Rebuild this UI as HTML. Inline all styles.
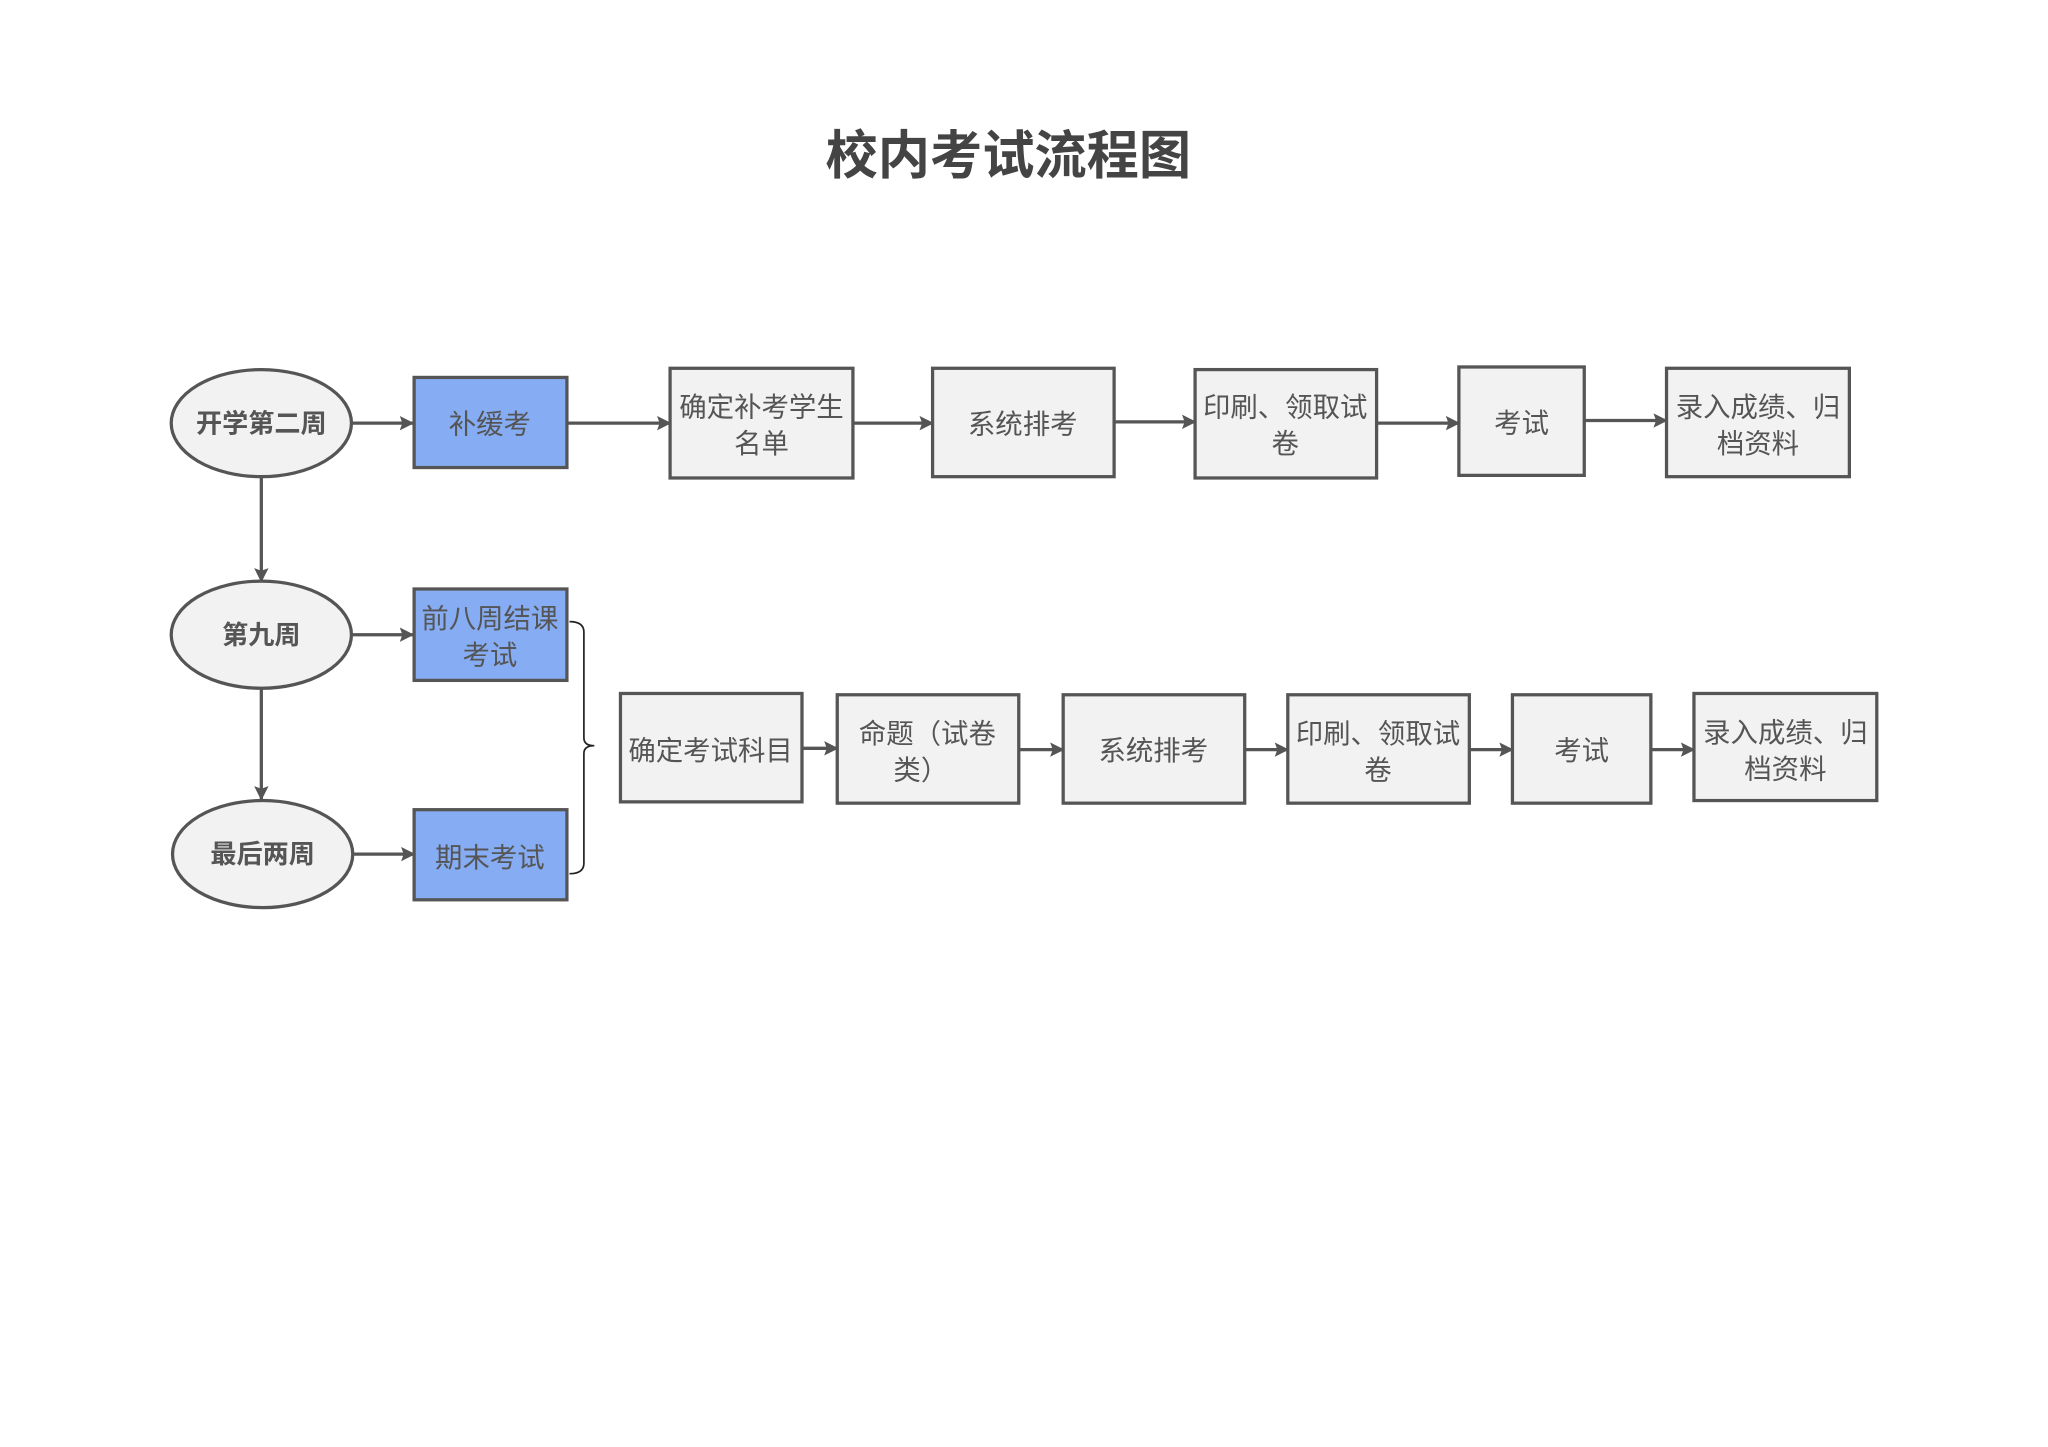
<!DOCTYPE html>
<html><head><meta charset="utf-8"><style>
html,body{margin:0;padding:0;background:#fff;}
svg{display:block;}
text{font-family:"Liberation Sans","Noto Sans CJK SC",sans-serif;fill:#555;}
</style></head><body>
<svg width="2048" height="1447" viewBox="0 0 1568 1108" xmlns="http://www.w3.org/2000/svg">
<defs><marker id="a" markerWidth="11" markerHeight="11" refX="10" refY="5.5" orient="auto" markerUnits="userSpaceOnUse"><path d="M0,0 L11,5.5 L0,11 L2,5.5 Z" fill="#555"/></marker></defs>
<text x="772" y="133" text-anchor="middle" font-size="40" font-weight="bold" style="fill:#444">校内考试流程图</text>
<g stroke="#555" stroke-width="2.5" fill="#f2f2f2">
<ellipse cx="200" cy="324" rx="69" ry="41"/>
<ellipse cx="200" cy="486" rx="69" ry="41"/>
<ellipse cx="201" cy="654" rx="69" ry="41"/>
</g>
<g stroke="#555" stroke-width="2.5" fill="#86adf3">
<rect x="317" y="289" width="117" height="69"/>
<rect x="317" y="451" width="117" height="70"/>
<rect x="317" y="620" width="117" height="69"/>
</g>
<g stroke="#555" stroke-width="2.5" fill="#f2f2f2">
<rect x="513" y="282" width="140" height="84"/>
<rect x="714" y="282" width="139" height="83"/>
<rect x="915" y="283" width="139" height="83"/>
<rect x="1117" y="281" width="96" height="83"/>
<rect x="1276" y="282" width="140" height="83"/>
<rect x="475" y="531" width="139" height="83"/>
<rect x="641" y="532" width="139" height="83"/>
<rect x="814" y="532" width="139" height="83"/>
<rect x="986" y="532" width="139" height="83"/>
<rect x="1158" y="532" width="106" height="83"/>
<rect x="1297" y="531" width="140" height="82"/>
</g>
<g stroke="#555" stroke-width="2.5" marker-end="url(#a)">
<line x1="269" y1="324" x2="316" y2="324"/>
<line x1="269" y1="486" x2="316" y2="486"/>
<line x1="270" y1="654" x2="317" y2="654"/>
<line x1="200" y1="366" x2="200" y2="445"/>
<line x1="200" y1="528" x2="200" y2="612"/>
<line x1="434" y1="324" x2="513" y2="324"/>
<line x1="653" y1="324" x2="714" y2="324"/>
<line x1="853" y1="323" x2="915" y2="323"/>
<line x1="1054" y1="324" x2="1117" y2="324"/>
<line x1="1213" y1="322" x2="1276" y2="322"/>
<line x1="614" y1="573" x2="641" y2="573"/>
<line x1="780" y1="574" x2="814" y2="574"/>
<line x1="953" y1="574" x2="986" y2="574"/>
<line x1="1125" y1="574" x2="1158" y2="574"/>
<line x1="1264" y1="574" x2="1297" y2="574"/>
</g>
<path d="M436,476 Q447,476 447,484 L447,565 Q447,571 455,571 Q447,571 447,577 L447,661 Q447,669 436,669" fill="none" stroke="#222" stroke-width="1.3"/>
<g font-size="20" font-weight="bold" text-anchor="middle">
<text x="200" y="331">开学第二周</text>
<text x="200" y="493">第九周</text>
<text x="201" y="661">最后两周</text>
</g>
<g font-size="21" text-anchor="middle">
<text x="375" y="332">补缓考</text>
<text x="375" y="481">前八周结课</text>
<text x="375" y="509">考试</text>
<text x="375" y="664">期末考试</text>
<text x="583" y="319">确定补考学生</text>
<text x="583" y="347">名单</text>
<text x="783" y="332">系统排考</text>
<text x="984" y="319">印刷、领取试</text>
<text x="984" y="347">卷</text>
<text x="1165" y="331">考试</text>
<text x="1346" y="319">录入成绩、归</text>
<text x="1346" y="347">档资料</text>
<text x="544" y="582">确定考试科目</text>
<text x="710" y="569">命题（试卷</text>
<text x="705" y="597">类）</text>
<text x="883" y="582">系统排考</text>
<text x="1055" y="569">印刷、领取试</text>
<text x="1055" y="597">卷</text>
<text x="1211" y="582">考试</text>
<text x="1367" y="568">录入成绩、归</text>
<text x="1367" y="596">档资料</text>
</g>
</svg>
</body></html>
